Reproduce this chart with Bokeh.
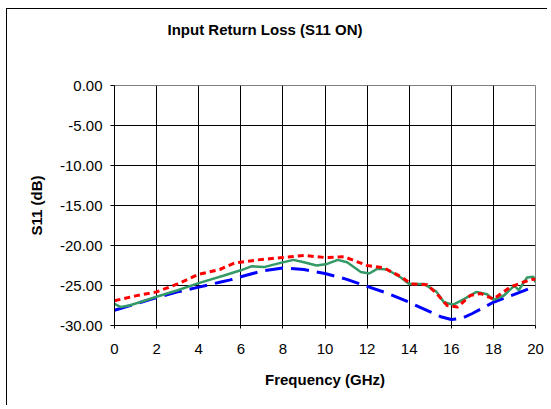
from bokeh.plotting import figure
from bokeh.models import FixedTicker, PrintfTickFormatter, Range1d
from bokeh.embed import file_html
from bokeh.resources import INLINE

# ---- data ----
red_f = [0, 1, 2, 3, 4, 5, 5.7, 6.8, 8.0, 9.0, 10.0, 10.9, 12.0, 12.8, 13.6, 14.1,
         14.85, 15.3, 15.8, 16.3, 16.9, 17.4, 18.0, 18.8, 19.4, 19.9, 20.0]
red_v = [-26.9, -26.3, -25.8, -24.8, -23.6, -23.0, -22.2, -21.8, -21.5, -21.25, -21.5,
         -21.4, -22.5, -22.8, -23.9, -24.8, -24.9, -26.0, -27.5, -27.7, -26.25, -26.0,
         -26.7, -25.2, -24.6, -24.2, -24.3]

blue_f = [0, 1, 2, 3, 4, 5, 5.5, 6, 7, 8, 9, 10, 11, 12, 13, 14, 15, 15.5, 16,
          16.5, 17, 18, 19, 20]
blue_v = [-28.1, -27.3, -26.5, -25.8, -25.2, -24.6, -24.3, -23.9, -23.2, -22.8, -23.0,
          -23.5, -24.2, -25.1, -26.0, -27.1, -28.3, -28.9, -29.25, -29.1, -28.5, -27.1,
          -26.1, -25.1]

green_f = [0, 0.3, 0.7, 1.2, 2.0, 3.0, 4.0, 5.2, 6.0, 6.5, 7.1, 7.7, 8.5, 9.0, 9.6,
           10.1, 10.6, 11.05, 11.7, 12.1, 12.5, 12.95, 13.6, 14.0, 14.7, 15.3, 15.65,
           16.1, 16.6, 17.2, 17.7, 18.0, 18.5, 19.0, 19.2, 19.6, 19.9, 20.0]
green_v = [-27.3, -27.7, -27.5, -27.1, -26.4, -25.6, -24.7, -23.75, -23.1, -22.6, -22.7,
           -22.3, -21.8, -22.1, -22.5, -22.3, -21.8, -22.1, -23.3, -23.5, -22.9, -23.0,
           -24.0, -24.8, -24.8, -25.8, -27.1, -27.4, -26.7, -25.8, -26.1, -26.8, -26.25,
           -25.0, -25.6, -24.0, -23.9, -24.6]

x_ticks = [0, 2, 4, 6, 8, 10, 12, 14, 16, 18, 20]
y_ticks = [0, -5, -10, -15, -20, -25, -30]

title_text = "Input Return Loss (S11 ON)"
x_label = "Frequency (GHz)"
y_label = "S11 (dB)"

FONT = "Liberation Sans"

p = figure(width=540, height=396, output_backend="svg", toolbar_location=None,
           x_range=Range1d(0, 20), y_range=Range1d(-30, 0),
           min_border_left=107, min_border_right=12, min_border_top=76,
           min_border_bottom=80, title=title_text + "\n\n")
p.frame_width = 421
p.frame_height = 240
p.styles = {"border-left": "1px solid black", "border-top": "1px solid black",
            "margin-left": "6px", "margin-top": "8px"}

p.background_fill_color = "white"
p.border_fill_color = "white"
p.outline_line_color = "#808080"
p.outline_line_width = 1

p.title.text_font = FONT
p.title.text_font_size = "15px"
p.title.text_font_style = "bold"
p.title.text_color = "black"
p.title.text_line_height = 1.26
p.title.align = "left"
p.title.offset = 53

# axes
for ax in (p.xaxis[0], p.yaxis[0]):
    ax.axis_line_color = "black"
    ax.major_tick_line_color = "black"
    ax.minor_tick_line_color = None
    ax.major_tick_in = 0
    ax.major_label_text_font = FONT
    ax.major_label_text_font_size = "15px"
    ax.major_label_text_color = "black"
    ax.axis_label_text_font = FONT
    ax.axis_label_text_font_size = "15px"
    ax.axis_label_text_font_style = "bold"
    ax.axis_label_text_color = "black"

p.xaxis.ticker = FixedTicker(ticks=x_ticks)
p.yaxis.ticker = FixedTicker(ticks=y_ticks)
p.yaxis.formatter = PrintfTickFormatter(format="%.2f")
p.xaxis.major_tick_out = 3
p.yaxis.major_tick_out = 4
p.xaxis.major_label_standoff = 15
p.yaxis.major_label_standoff = 8
p.xaxis.axis_label = x_label
p.yaxis.axis_label = y_label
p.xaxis.axis_label_standoff = 14
p.yaxis.axis_label_standoff = 12

# grid
p.xgrid.ticker = FixedTicker(ticks=x_ticks[1:-1])
p.ygrid.ticker = FixedTicker(ticks=y_ticks[1:-1])
p.xgrid.grid_line_color = "black"
p.ygrid.grid_line_color = "black"
p.xgrid.grid_line_width = 1
p.ygrid.grid_line_width = 1

# series
p.line(blue_f, blue_v, line_color="#0000FF", line_width=3, line_dash="18 8")
p.line(green_f, green_v, line_color="#339966", line_width=2.5)
p.line(red_f, red_v, line_color="#FF0000", line_width=3, line_dash="6 4")

open("out.html", "w").write(file_html(p, INLINE))
